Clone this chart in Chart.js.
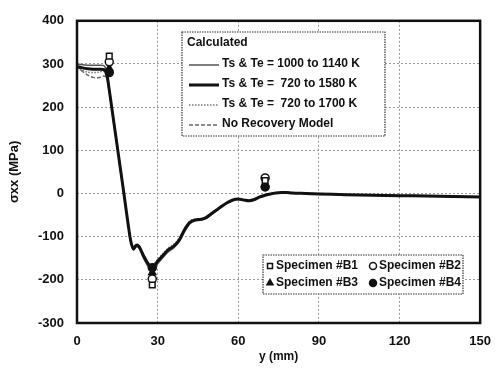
<!DOCTYPE html>
<html>
<head>
<meta charset="utf-8">
<script src="https://cdn.jsdelivr.net/npm/chart.js@4/dist/chart.umd.min.js"></script>
<style>
  html, body { margin: 0; padding: 0; background: #fff; }
</style>
</head>
<body>
<canvas id="stress-profile" width="502" height="370"></canvas>
<script>
// Position along y (mm) for the calculated curves
const yPositions = [0, 2, 4, 6, 8, 10, 11, 12, 13, 14, 15, 16, 17, 18, 19, 20, 21, 22, 23, 24, 25, 26, 27, 28, 29, 30,
    32, 34, 36, 38, 40, 42, 44, 46, 48, 50, 52, 54, 56, 58, 60, 62, 64, 66, 68, 70, 72, 74, 76, 78, 80, 85, 90,
    100, 110, 120, 130, 140, 150];

// Calculated sigma_xx (MPa)
const calc1000to1140 = [300, 298, 297, 297, 297, 296, 284, 244, 199, 155, 110, 66, 22, -24, -70, -112, -131, -124, -126, -139, -153, -165, -174, -178, -172, -163,
    -148, -135, -126, -112, -89, -70, -63, -62, -58, -49, -40, -30, -22, -16, -14, -15, -17, -14, -8, -4, -1, 1, 2, 2, 1, 0, -1,
    -3, -4, -5, -6, -7, -8];
const calc720to1580 = [294, 291, 289, 288, 288, 287, 278, 240, 196, 152, 108, 64, 20, -25, -70, -110, -128, -120, -122, -134, -147, -158, -167, -170, -165, -157,
    -143, -130, -122, -108, -84, -67, -61, -60, -56, -47, -38, -29, -21, -15, -13, -15, -17, -14, -8, -4, -1, 1, 2, 2, 1, 0, -1,
    -3, -4, -5, -6, -7, -8];
const calc720to1700 = [290, 285, 281, 280, 281, 283, 274, 237, 193, 150, 106, 62, 18, -27, -71, -111, -127, -119, -121, -132, -145, -156, -164, -167, -162, -153,
    -139, -126, -118, -104, -81, -64, -59, -58, -54, -45, -36, -27, -19, -14, -12, -14, -16, -13, -7, -3, 0, 2, 3, 3, 2, 1, 0,
    -2, -3, -4, -5, -6, -7];
const noRecovery = [296, 283, 274, 269, 268, 272, 268, 234, 191, 148, 104, 60, 16, -28, -72, -113, -130, -123, -125, -137, -150, -162, -171, -175, -169, -160,
    -146, -133, -124, -110, -87, -69, -62, -61, -57, -48, -39, -30, -21, -15, -13, -15, -17, -14, -8, -4, -1, 1, 2, 2, 1, 0, -1,
    -3, -4, -5, -6, -7, -8];

// Measured specimens (MPa) at three positions
const specimenPositions = [12, 28, 70];
const specimenB1 = [318, -212, 30];
const specimenB2 = [305, -198, 36];
const specimenB3 = [290, -183, 22];
const specimenB4 = [280, -172, 15];

// Axis ticks
const xTicks = [0, 30, 60, 90, 120, 150];
const yTicks = [-300, -200, -100, 0, 100, 200, 300, 400];

const toPoints = (xs, ys) => xs.map((x, i) => ({ x: x, y: ys[i] }));

const FONT_FAMILY = "'Liberation Sans', Arial, sans-serif";

// Draws the plot frame and both in-plot legends
const framePlugin = {
    id: "frameAndLegends",
    afterDatasetsDraw(chart) {
        const ctx = chart.ctx;
        const area = chart.chartArea;
        ctx.save();

        // Heavy frame round the plot
        ctx.strokeStyle = "#111";
        ctx.lineWidth = 2.5;
        ctx.strokeRect(area.left, area.top, area.right - area.left, area.bottom - area.top);

        // Legend for the calculated curves
        const calcSets = chart.data.datasets.filter(d => d.group === "calc");
        ctx.fillStyle = "#fff";
        ctx.fillRect(182, 32, 203, 104);
        ctx.strokeStyle = "#333";
        ctx.lineWidth = 1.2;
        ctx.setLineDash([1.5, 1]);
        ctx.strokeRect(182, 32, 203, 104);
        ctx.setLineDash([]);

        ctx.fillStyle = "#111";
        ctx.font = "bold 12px " + FONT_FAMILY;
        ctx.textBaseline = "middle";
        ctx.textAlign = "left";
        ctx.fillText("Calculated", 187, 43);

        calcSets.forEach((ds, i) => {
            const rowY = 64 + i * 20;
            ctx.strokeStyle = ds.borderColor;
            ctx.lineWidth = ds.borderWidth;
            ctx.setLineDash(ds.borderDash || []);
            ctx.beginPath();
            ctx.moveTo(189, rowY + 1);
            ctx.lineTo(219, rowY + 1);
            ctx.stroke();
            ctx.setLineDash([]);
            ctx.fillStyle = "#111";
            ctx.fillText(ds.label, 222, rowY);
        });

        // Legend for the measured specimens
        const specSets = chart.data.datasets.filter(d => d.group === "spec");
        ctx.fillStyle = "#fff";
        ctx.fillRect(263, 255, 200, 39);
        ctx.strokeStyle = "#333";
        ctx.lineWidth = 1.2;
        ctx.setLineDash([1.5, 1]);
        ctx.strokeRect(263, 255, 200, 39);
        ctx.setLineDash([]);

        specSets.forEach((ds, i) => {
            const colX = 270 + (i % 2) * 103;
            const rowY = 266 + Math.floor(i / 2) * 17;
            ctx.fillStyle = ds.backgroundColor;
            ctx.strokeStyle = ds.borderColor;
            ctx.lineWidth = ds.borderWidth;
            Chart.helpers.drawPoint(ctx, {
                pointStyle: ds.pointStyle,
                radius: 3.5,
                rotation: 0,
                borderWidth: ds.borderWidth
            }, colX, rowY);
            ctx.fillStyle = "#111";
            ctx.fillText(ds.label, colX + 6, rowY);
        });

        ctx.restore();
    }
};

new Chart("stress-profile", {
    type: "scatter",
    data: {
        datasets: [
            {
                label: "Specimen #B1", group: "spec", order: 0,
                data: toPoints(specimenPositions, specimenB1),
                pointStyle: "rect", pointRadius: 4, borderWidth: 1.5,
                borderColor: "#111", backgroundColor: "#fff", showLine: false
            },
            {
                label: "Specimen #B2", group: "spec", order: 0,
                data: toPoints(specimenPositions, specimenB2),
                pointStyle: "circle", pointRadius: 4, borderWidth: 1.5,
                borderColor: "#111", backgroundColor: "#fff", showLine: false
            },
            {
                label: "Specimen #B3", group: "spec", order: 0,
                data: toPoints(specimenPositions, specimenB3),
                pointStyle: "triangle", pointRadius: 4, borderWidth: 1.5,
                borderColor: "#111", backgroundColor: "#111", showLine: false
            },
            {
                label: "Specimen #B4", group: "spec", order: 0,
                data: toPoints(specimenPositions, specimenB4),
                pointStyle: "circle", pointRadius: 4, borderWidth: 1.5,
                borderColor: "#111", backgroundColor: "#111", showLine: false
            },
            {
                label: "Ts & Te = 1000 to 1140 K", group: "calc", order: 3,
                data: toPoints(yPositions, calc1000to1140),
                showLine: true, pointRadius: 0, borderColor: "#555", borderWidth: 1.5,
                tension: 0.3
            },
            {
                label: "Ts & Te =  720 to 1580 K", group: "calc", order: 1,
                data: toPoints(yPositions, calc720to1580),
                showLine: true, pointRadius: 0, borderColor: "#111", borderWidth: 3,
                tension: 0.3
            },
            {
                label: "Ts & Te =  720 to 1700 K", group: "calc", order: 2,
                data: toPoints(yPositions, calc720to1700),
                showLine: true, pointRadius: 0, borderColor: "#777", borderWidth: 1.5,
                borderDash: [1.5, 1.5], tension: 0.3
            },
            {
                label: "No Recovery Model", group: "calc", order: 4,
                data: toPoints(yPositions, noRecovery),
                showLine: true, pointRadius: 0, borderColor: "#666", borderWidth: 1.5,
                borderDash: [4, 2], tension: 0.3
            }
        ]
    },
    options: {
        responsive: false,
        animation: false,
        layout: {
            padding: { top: 15, right: 19, left: 0, bottom: 0 }
        },
        plugins: {
            legend: { display: false },
            tooltip: { enabled: false }
        },
        scales: {
            x: {
                type: "linear",
                min: xTicks[0],
                max: xTicks[xTicks.length - 1],
                afterBuildTicks: scale => { scale.ticks = xTicks.map(v => ({ value: v })); },
                afterFit: scale => { scale.height = 47; },
                ticks: {
                    color: "#111",
                    padding: 11,
                    font: { size: 13, weight: "bold", family: FONT_FAMILY }
                },
                grid: { color: "#999", lineWidth: 1, drawTicks: false },
                border: { display: false, dash: [2, 2] },
                title: {
                    display: true,
                    text: "y (mm)",
                    color: "#111",
                    padding: { top: 0, bottom: 6 },
                    font: { size: 12, weight: "bold", family: FONT_FAMILY }
                }
            },
            y: {
                min: yTicks[0],
                max: yTicks[yTicks.length - 1],
                afterBuildTicks: scale => { scale.ticks = yTicks.map(v => ({ value: v })); },
                afterFit: scale => { scale.width = 77; },
                ticks: {
                    color: "#111",
                    padding: 13,
                    font: { size: 13, weight: "bold", family: FONT_FAMILY }
                },
                grid: { color: "#999", lineWidth: 1, drawTicks: false },
                border: { display: false, dash: [2, 2] },
                title: {
                    display: true,
                    text: "σxx (MPa)",
                    color: "#111",
                    padding: { top: 7, bottom: 0 },
                    font: { size: 13, weight: "bold", family: FONT_FAMILY }
                }
            }
        }
    },
    plugins: [framePlugin]
});
</script>
</body>
</html>
